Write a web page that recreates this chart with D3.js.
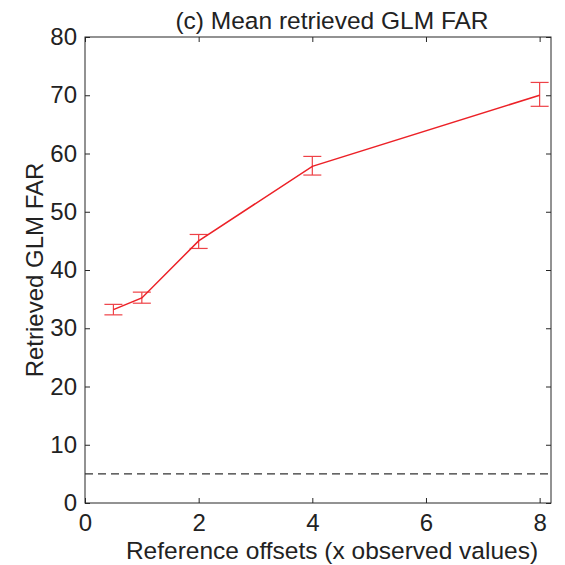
<!DOCTYPE html>
<html>
<head>
<meta charset="utf-8">
<script src="https://cdn.jsdelivr.net/npm/d3@7"></script>
<style>
  body { margin: 0; background: #fff; }
  text { font-family: "Liberation Sans", Arial, sans-serif; fill: #222; }
</style>
</head>
<body>
<svg id="chart"></svg>
<script>
// data
const offsets = [0.5, 1, 2, 4, 8];
const meanFar = [33.2, 35.2, 45.0, 57.8, 70.0];
const errLow = [32.3, 34.3, 43.7, 56.3, 68.1];
const errHigh = [34.1, 36.2, 46.1, 59.5, 72.2];
const refLevel = 5;
const xTicks = [0, 2, 4, 6, 8];
const yTicks = [0, 10, 20, 30, 40, 50, 60, 70, 80];

const width = 565, height = 565;
const margin = { left: 85, right: 14, top: 37, bottom: 62 };
const red = "#ec2127";

const svg = d3.select("#chart").attr("width", width).attr("height", height);

const x = d3.scaleLinear().domain([0, 8.2]).range([margin.left, width - margin.right]);
const y = d3.scaleLinear().domain([0, 80]).range([height - margin.bottom, margin.top]);

const tickLen = 5;

// box
svg.append("rect")
  .attr("x", margin.left).attr("y", margin.top)
  .attr("width", width - margin.right - margin.left)
  .attr("height", height - margin.bottom - margin.top)
  .attr("fill", "none").attr("stroke", "#262626").attr("stroke-width", 1);

// axes with inward ticks (matlab style)
const xAxis = svg.append("g")
  .attr("transform", `translate(0,${height - margin.bottom})`)
  .call(d3.axisBottom(x).tickValues(xTicks).tickSize(-tickLen).tickPadding(11));
const xTop = svg.append("g")
  .attr("transform", `translate(0,${margin.top})`)
  .call(d3.axisTop(x).tickValues(xTicks).tickSize(-tickLen).tickFormat(""));
const yAxis = svg.append("g")
  .attr("transform", `translate(${margin.left},0)`)
  .call(d3.axisLeft(y).tickValues(yTicks).tickSize(-tickLen).tickPadding(8));
const yRight = svg.append("g")
  .attr("transform", `translate(${width - margin.right},0)`)
  .call(d3.axisRight(y).tickValues(yTicks).tickSize(-tickLen).tickFormat(""));

[xAxis, xTop, yAxis, yRight].forEach(g => {
  g.select(".domain").remove();
  g.selectAll("line").attr("stroke", "#262626");
  g.selectAll("text").attr("font-size", 24).attr("fill", "#222")
    .attr("font-family", "'Liberation Sans', Arial, sans-serif");
});
xAxis.selectAll("text").attr("dy", "0.71em");

// dashed reference line
svg.append("line")
  .attr("x1", x(0)).attr("x2", x.range()[1])
  .attr("y1", y(refLevel)).attr("y2", y(refLevel))
  .attr("stroke", "#333").attr("stroke-width", 1.3)
  .attr("stroke-dasharray", "8,5");

const pts = offsets.map((o, i) => ({ x: o, y: meanFar[i], lo: errLow[i], hi: errHigh[i] }));

// mean line
svg.append("path")
  .datum(pts)
  .attr("fill", "none").attr("stroke", red).attr("stroke-width", 1.5)
  .attr("d", d3.line().x(d => x(d.x)).y(d => y(d.y)));

// error bars
const capW = 9;
const eb = svg.append("g").attr("stroke", red).attr("stroke-width", 1.2).attr("opacity", 0.85);
eb.selectAll(".v").data(pts).enter().append("line")
  .attr("x1", d => x(d.x)).attr("x2", d => x(d.x))
  .attr("y1", d => y(d.lo)).attr("y2", d => y(d.hi));
eb.selectAll(".t").data(pts).enter().append("line")
  .attr("x1", d => x(d.x) - capW).attr("x2", d => x(d.x) + capW)
  .attr("y1", d => y(d.hi)).attr("y2", d => y(d.hi));
eb.selectAll(".b").data(pts).enter().append("line")
  .attr("x1", d => x(d.x) - capW).attr("x2", d => x(d.x) + capW)
  .attr("y1", d => y(d.lo)).attr("y2", d => y(d.lo));

// labels (the original centres them a bit right of the axes centre)
const cx = 332;
svg.append("text").attr("x", cx).attr("y", 29)
  .attr("text-anchor", "middle").attr("font-size", 24.5)
  .text("(c) Mean retrieved GLM FAR");
svg.append("text").attr("x", cx).attr("y", 559)
  .attr("text-anchor", "middle").attr("font-size", 24.5)
  .text("Reference offsets (x observed values)");
svg.append("text")
  .attr("transform", `translate(43,${(margin.top + height - margin.bottom) / 2}) rotate(-90)`)
  .attr("text-anchor", "middle").attr("font-size", 24)
  .text("Retrieved GLM FAR");
</script>
</body>
</html>
